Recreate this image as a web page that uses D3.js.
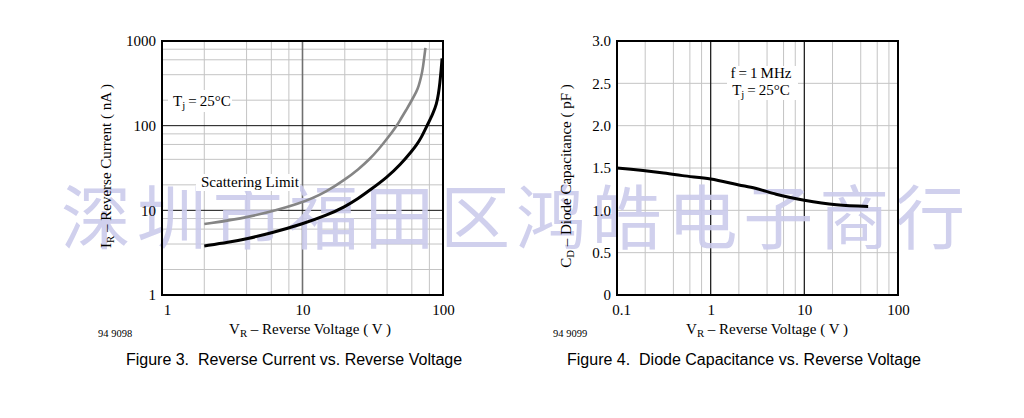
<!DOCTYPE html>
<html><head><meta charset="utf-8">
<script src="https://cdn.jsdelivr.net/npm/d3@7"></script>
<style>body{margin:0;background:#fff} svg{display:block}</style>
</head><body>
<svg id="c" width="1024" height="418"></svg>
<script>
// ---- data ----
const vScatter = [2, 4, 10, 15, 20, 25, 30, 35, 40, 47, 50, 55, 60, 65, 67, 70, 72, 75];
const iScatter = [6.9, 8.1, 12.1, 16.8, 23, 30.5, 40, 53, 70, 100, 120, 155, 200, 255, 290, 380, 480, 830];
const vTyp = [2, 3, 4, 6, 10, 15, 20, 25, 30, 40, 50, 60, 65, 70, 77, 85, 90, 93, 95, 97, 98.5];
const iTyp = [3.8, 4.2, 4.6, 5.4, 6.9, 8.8, 11, 13.8, 17.2, 24.5, 35, 50, 59.5, 72, 100, 140, 180, 240, 320, 450, 625];
const vCap = [0.1, 0.3, 0.5, 1, 2, 3, 5, 10, 22, 48];
const cCap = [1.50, 1.445, 1.41, 1.37, 1.30, 1.26, 1.19, 1.12, 1.065, 1.045];
const xTicksL = [1, 10, 100];
const yTicksL = [1, 10, 100, 1000];
const xTicksR = [0.1, 1, 10, 100];
const yTicksR = [0, 0.5, 1.0, 1.5, 2.0, 2.5, 3.0];
const watermark = ["深","圳","市","福","田","区","鸿","皓","电","子","商","行"];

const svg = d3.select("#c");
const SERIF = "'Liberation Serif','Times New Roman',serif";
const SANS = "'Liberation Sans',Arial,sans-serif";

// ---- scales ----
const xL = d3.scaleLog().domain([1, 100]).range([162, 443]);
const yL = d3.scaleLog().domain([1, 1000]).range([295, 41]);
const xR = d3.scaleLog().domain([0.1, 100]).range([617, 898]);
const yR = d3.scaleLinear().domain([0, 3]).range([295, 41]);

const mant = v => Math.round(v / Math.pow(10, Math.floor(Math.log10(v) + 1e-9)));
const minorLog = s => s.ticks().filter(v => [2,4,6,8].includes(mant(v)));

const gridMinor = "#c4c4c4";

// ---- left chart grid ----
const gL = svg.append("g");
gL.selectAll(".vx").data(minorLog(xL)).join("line")
  .attr("x1", d => xL(d)).attr("x2", d => xL(d)).attr("y1", yL.range()[0]).attr("y2", yL.range()[1])
  .attr("stroke", gridMinor).attr("stroke-width", 1);
gL.selectAll(".hy").data(minorLog(yL)).join("line")
  .attr("y1", d => yL(d)).attr("y2", d => yL(d)).attr("x1", xL.range()[0]).attr("x2", xL.range()[1])
  .attr("stroke", gridMinor).attr("stroke-width", 1);
gL.selectAll(".vmaj").data([10]).join("line")
  .attr("x1", d => xL(d)).attr("x2", d => xL(d)).attr("y1", yL.range()[0]).attr("y2", yL.range()[1])
  .attr("stroke", "#707070").attr("stroke-width", 1.6);
gL.selectAll(".hmaj").data([10, 100]).join("line")
  .attr("y1", d => yL(d)).attr("y2", d => yL(d)).attr("x1", xL.range()[0]).attr("x2", xL.range()[1])
  .attr("stroke", "#111").attr("stroke-width", 1);

// ---- right chart grid ----
const gR = svg.append("g");
gR.selectAll(".vx").data(minorLog(xR)).join("line")
  .attr("x1", d => xR(d)).attr("x2", d => xR(d)).attr("y1", yR.range()[0]).attr("y2", yR.range()[1])
  .attr("stroke", gridMinor).attr("stroke-width", 1);
gR.selectAll(".hy").data(yTicksR.slice(1, -1)).join("line")
  .attr("y1", d => yR(d)).attr("y2", d => yR(d)).attr("x1", xR.range()[0]).attr("x2", xR.range()[1])
  .attr("stroke", gridMinor).attr("stroke-width", 1);
gR.selectAll(".vmaj").data([1, 10]).join("line")
  .attr("x1", d => xR(d)).attr("x2", d => xR(d)).attr("y1", yR.range()[0]).attr("y2", yR.range()[1])
  .attr("stroke", "#222").attr("stroke-width", 1.3);

// ---- watermark ----
const wx = d3.scalePoint().domain(d3.range(watermark.length)).range([96, 930]);
svg.append("g").selectAll("text").data(watermark).join("text")
  .attr("x", (d, i) => wx(i)).attr("y", 213)
  .attr("text-anchor", "middle").attr("dominant-baseline", "central")
  .attr("font-family", "'Noto Sans CJK SC',sans-serif").attr("font-weight", 400)
  .attr("font-size", 70).attr("fill", "#cbcbec").attr("opacity", 0.9)
  .text(d => d);

// ---- label boxes (white) ----
function box(x, y, w, h) {
  svg.append("rect").attr("x", x).attr("y", y).attr("width", w).attr("height", h).attr("fill", "#fff");
}
box(168, 90, 64, 22);
box(196, 174, 104, 17);
box(727, 66, 71, 34);

// ---- curves ----
const lineL = d3.line().x(d => xL(d[0])).y(d => yL(d[1])).curve(d3.curveBasis);
const lineR = d3.line().x(d => xR(d[0])).y(d => yR(d[1])).curve(d3.curveMonotoneX);
svg.append("path").datum(d3.zip(vScatter, iScatter)).attr("d", lineL)
  .attr("fill", "none").attr("stroke", "#858585").attr("stroke-width", 2.6);
svg.append("path").datum(d3.zip(vTyp, iTyp)).attr("d", lineL)
  .attr("fill", "none").attr("stroke", "#000").attr("stroke-width", 3);
svg.append("path").datum(d3.zip(vCap, cCap)).attr("d", lineR)
  .attr("fill", "none").attr("stroke", "#000").attr("stroke-width", 3);

// ---- frames ----
[[xL, yL], [xR, yR]].forEach(([x, y]) => {
  svg.append("rect").attr("x", x.range()[0]).attr("y", y.range()[1])
    .attr("width", x.range()[1] - x.range()[0]).attr("height", y.range()[0] - y.range()[1])
    .attr("fill", "none").attr("stroke", "#000").attr("stroke-width", 2);
});

// ---- axes (tick labels only) ----
function axisText(g, axis) {
  g.call(axis);
  g.select(".domain").remove();
  g.selectAll(".tick line").remove();
  g.selectAll("text").attr("font-family", SERIF).attr("font-size", 15).attr("fill", "#000");
  return g;
}
const fmtL = d3.format("d");
axisText(svg.append("g").attr("transform", "translate(0,295)"),
  d3.axisBottom(xL).tickValues(xTicksL).tickFormat(fmtL).tickSize(0).tickPadding(9))
  .selectAll(".tick text").filter(d => d === 1).attr("dx", 5);
axisText(svg.append("g").attr("transform", "translate(162,0)"),
  d3.axisLeft(yL).tickValues(yTicksL).tickFormat(fmtL).tickSize(0).tickPadding(6));
axisText(svg.append("g").attr("transform", "translate(0,295)"),
  d3.axisBottom(xR).tickValues(xTicksR).tickFormat(d => d < 1 ? "0.1" : fmtL(d)).tickSize(0).tickPadding(9))
  .selectAll(".tick text").filter(d => d === 0.1).attr("dx", 4);
axisText(svg.append("g").attr("transform", "translate(617,0)"),
  d3.axisLeft(yR).tickValues(yTicksR).tickFormat(d => d === 0 ? "0" : d3.format(".1f")(d)).tickSize(0).tickPadding(6));

// ---- texts ----
function sub(sel, main, s, rest) {
  sel.append("tspan").text(main);
  sel.append("tspan").attr("font-size", "0.72em").attr("baseline-shift", "-0.25em").text(s);
  sel.append("tspan").text(rest);
  return sel;
}
function txt(x, y, opts) {
  const t = svg.append("text").attr("x", x).attr("y", y)
    .attr("font-family", opts.font || SERIF).attr("font-size", opts.size || 15)
    .attr("fill", "#000").attr("text-anchor", opts.anchor || "start")
    .style("white-space", "pre");
  if (opts.rotate) t.attr("transform", `rotate(-90,${x},${y})`);
  return t;
}
sub(txt(173, 106, {}), "T", "j", "\u2009=\u200925°C");
txt(201, 187, {}).text("Scattering Limit");
txt(761, 78, { anchor: "middle" }).text("f\u2009=\u20091\u2009MHz");
sub(txt(761, 95, { anchor: "middle" }), "T", "j", "\u2009=\u200925°C");

sub(txt(310, 334, { anchor: "middle" }), "V", "R", " – Reverse Voltage ( V )");
sub(txt(767, 334, { anchor: "middle" }), "V", "R", " – Reverse Voltage ( V )");
sub(txt(111, 166, { anchor: "middle", rotate: true }), "I", "R", " – Reverse Current ( nA )");
sub(txt(571, 176, { anchor: "middle", rotate: true }), "C", "D", " – Diode Capacitance ( pF )");

txt(98, 337, { size: 10.5 }).text("94 9098");
txt(553, 337, { size: 10.5 }).text("94 9099");

txt(294, 365, { anchor: "middle", font: SANS, size: 16 }).text("Figure 3.  Reverse Current vs. Reverse Voltage");
txt(744, 365, { anchor: "middle", font: SANS, size: 16 }).text("Figure 4.  Diode Capacitance vs. Reverse Voltage");
</script>
</body></html>
